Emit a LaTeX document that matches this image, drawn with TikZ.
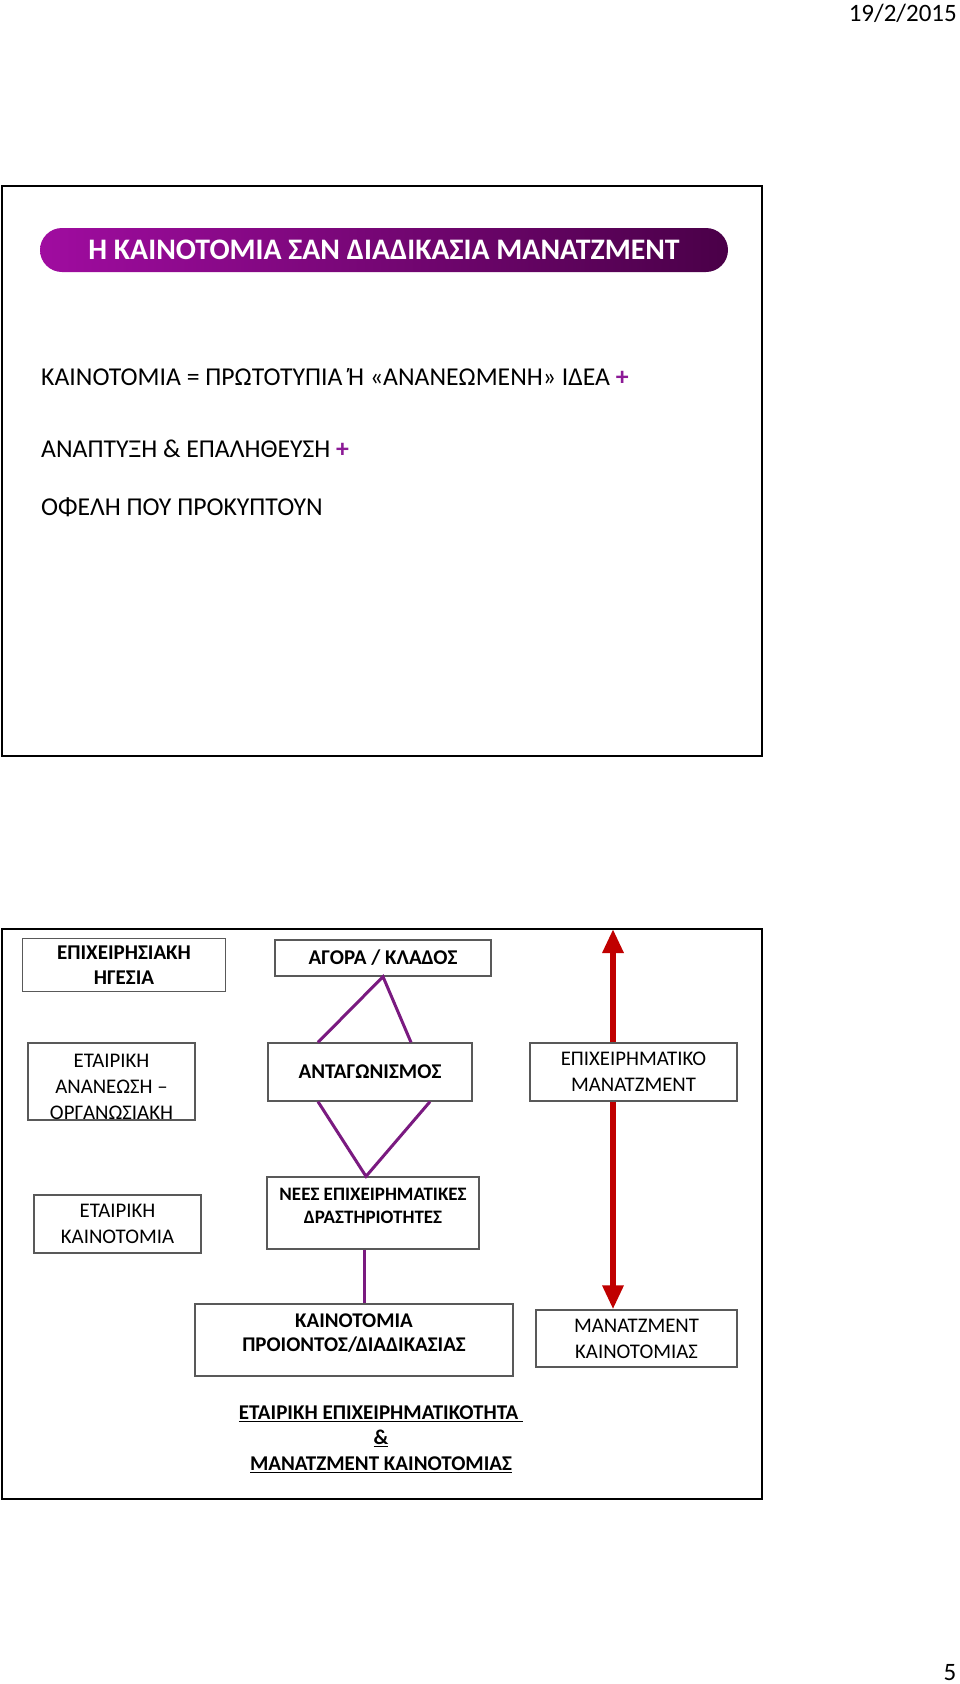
\documentclass[tikz,border=0pt]{standalone}
\usepackage{fontspec}
\setmainfont{Carlito}
\usetikzlibrary{arrows.meta}
\definecolor{boxline}{HTML}{595959}
\definecolor{purp}{HTML}{7A1A80}
\definecolor{plusc}{HTML}{8C1A96}
\definecolor{darkred}{HTML}{C00000}
\definecolor{pillL}{HTML}{A00CA0}
\definecolor{pillR}{HTML}{4A0048}
\begin{document}
\begin{tikzpicture}[x=1pt,y=-1pt,
  box/.style={draw=boxline, line width=1.3pt, fill=white, inner sep=0pt, align=center, font=\fontsize{20.8}{25.8}\selectfont},
  boldbox/.style={box, font=\fontsize{21}{25}\selectfont\bfseries},
  txt/.style={inner sep=0pt, align=center},
  conn/.style={draw=purp, line width=3pt},
  redarr/.style={draw=darkred, line width=6pt, -{Triangle[width=20pt,length=24pt]}},
  slide/.style={draw=black, line width=2pt},
  bodytext/.style={inner sep=0pt, anchor=base west, font=\fontsize{25.7}{30}\selectfont}
]
\fill[white] (0,0) rectangle (960,1684);
\useasboundingbox (0,0) rectangle (960,1684);

% header / footer
\node[inner sep=0pt, anchor=east, font=\fontsize{25}{30}\selectfont] (date) at (957,13) {19/2/2015};
\node[inner sep=0pt, font=\fontsize{25}{30}\selectfont] (pnum) at (950,1673) {5};

% top slide
\draw[slide] (2,186) rectangle (762,756);
\node[rounded corners=22pt, left color=pillL, right color=pillR, minimum width=688pt, minimum height=44pt, inner sep=0pt,
  text=white, font=\fontsize{29.8}{34}\selectfont\bfseries] (title) at (384,250) {Η ΚΑΙΝΟΤΟΜΙΑ ΣΑΝ ΔΙΑΔΙΚΑΣΙΑ ΜΑΝΑΤΖΜΕΝΤ};
\node[bodytext] (l1) at (41,385) {ΚΑΙΝΟΤΟΜΙΑ = ΠΡΩΤΟΤΥΠΙΑ Ή «ΑΝΑΝΕΩΜΕΝΗ» ΙΔΕΑ {\color{plusc}\bfseries +}};
\node[bodytext] (l2) at (41,457) {ΑΝΑΠΤΥΞΗ \& ΕΠΑΛΗΘΕΥΣΗ {\color{plusc}\bfseries +}};
\node[bodytext] (l3) at (41,515) {ΟΦΕΛΗ ΠΟΥ ΠΡΟΚΥΠΤΟΥΝ};

% bottom slide
\draw[slide] (2,929) rectangle (762,1499);

\node[boldbox, minimum width=203pt, minimum height=53pt] (hg) at (124,965) {ΕΠΙΧΕΙΡΗΣΙΑΚΗ\\ΗΓΕΣΙΑ};
\node[boldbox, minimum width=216pt, minimum height=36pt] (agora) at (383,958) {ΑΓΟΡΑ / ΚΛΑΔΟΣ};
\node[box, minimum width=167pt, minimum height=77pt] (anan) at (111.5,1081.5) {};
\node[txt, font=\fontsize{20.8}{25.8}\selectfont] (anantext) at (111.5,1087) {ΕΤΑΙΡΙΚΗ\\ΑΝΑΝΕΩΣΗ –\\ΟΡΓΑΝΩΣΙΑΚΗ};
\node[boldbox, minimum width=204pt, minimum height=58pt] (antag) at (370,1072) {ΑΝΤΑΓΩΝΙΣΜΟΣ};
\node[box, minimum width=207pt, minimum height=58pt] (epman) at (633.5,1072) {ΕΠΙΧΕΙΡΗΜΑΤΙΚΟ\\ΜΑΝΑΤΖΜΕΝΤ};
\node[box, minimum width=167pt, minimum height=58pt] (etkain) at (117.5,1224) {ΕΤΑΙΡΙΚΗ\\ΚΑΙΝΟΤΟΜΙΑ};
\node[box, minimum width=212pt, minimum height=72pt] (nees) at (373,1213) {};
\node[txt, font=\fontsize{19}{23.6}\selectfont\bfseries] (neestext) at (373,1206) {ΝΕΕΣ ΕΠΙΧΕΙΡΗΜΑΤΙΚΕΣ\\ΔΡΑΣΤΗΡΙΟΤΗΤΕΣ};
\node[box, minimum width=318pt, minimum height=72pt] (kain) at (354,1340) {};
\node[txt, font=\fontsize{20.9}{24.7}\selectfont\bfseries] (kaintext) at (354,1333) {ΚΑΙΝΟΤΟΜΙΑ\\ΠΡΟΙΟΝΤΟΣ/ΔΙΑΔΙΚΑΣΙΑΣ};
\node[box, minimum width=201pt, minimum height=57pt] (mankain) at (636.5,1338.5) {ΜΑΝΑΤΖΜΕΝΤ\\ΚΑΙΝΟΤΟΜΙΑΣ};

\node[txt, font=\fontsize{21}{25.5}\selectfont\bfseries] (concl) at (381,1439)
  {\underline{ΕΤΑΙΡΙΚΗ ΕΠΙΧΕΙΡΗΜΑΤΙΚΟΤΗΤΑ\ }\\\underline{\&}\\\underline{ΜΑΝΑΤΖΜΕΝΤ ΚΑΙΝΟΤΟΜΙΑΣ}};

% purple connectors
\draw[conn] ([xshift=-52pt]antag.north) -- (agora.south) -- ([xshift=41pt]antag.north);
\draw[conn] ([xshift=-52pt]antag.south) -- ([xshift=-7pt]nees.north) -- ([xshift=60pt]antag.south);
\draw[conn] ([xshift=-9pt]nees.south) -- ([xshift=10pt]kain.north);

% red arrows
\coordinate (toptip) at (613,929);
\draw[redarr] ([xshift=-20.5pt]epman.north) -- (toptip);
\draw[redarr] ([xshift=-20.5pt]epman.south) -- ([xshift=-23.5pt]mankain.north);
\end{tikzpicture}
\end{document}
